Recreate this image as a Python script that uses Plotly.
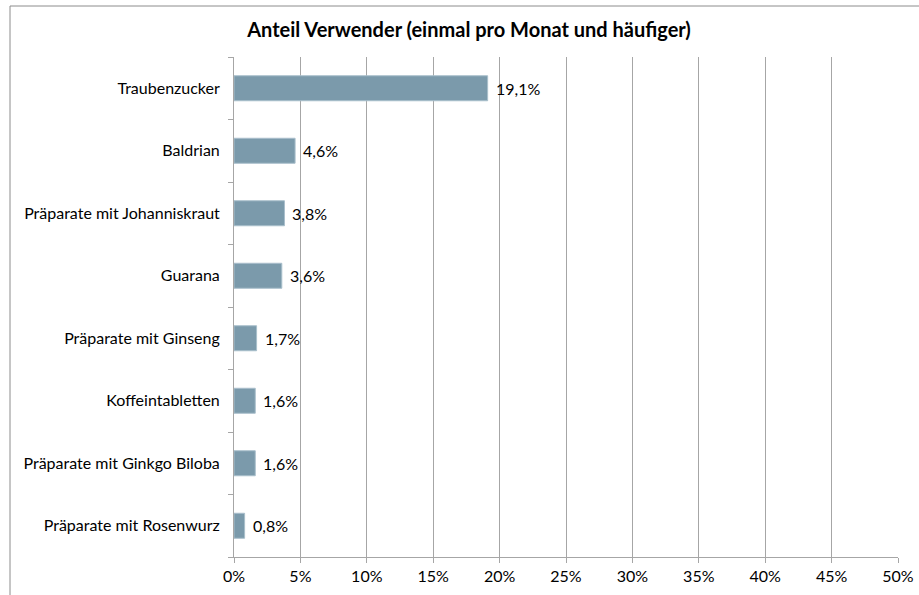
import plotly.graph_objects as go

# Anteil der Verwender je Präparat (in Prozent), von oben nach unten
categories = [
    "Traubenzucker",
    "Baldrian",
    "Präparate mit Johanniskraut",
    "Guarana",
    "Präparate mit Ginseng",
    "Koffeintabletten",
    "Präparate mit Ginkgo Biloba",
    "Präparate mit Rosenwurz",
]
values = [19.1, 4.6, 3.8, 3.6, 1.7, 1.6, 1.6, 0.8]
x_ticks = [0, 5, 10, 15, 20, 25, 30, 35, 40, 45, 50]
x_tick_labels = [f"{t}%" for t in x_ticks]

labels = [f"{v:.1f}%".replace(".", ",") for v in values]

W, H = 919, 595
m_left, m_right, m_top, m_bottom = 234, 21, 57, 38
pw = W - m_left - m_right
ph = H - m_top - m_bottom

FONT = "Lato, 'Open Sans', sans-serif"
GRID = "#a6a6a6"
TXT = "#000000"
FS = 16

fig = go.Figure(
    go.Bar(
        y=categories,
        x=values,
        orientation="h",
        marker=dict(color="#7b9aab", line=dict(color="#a9bfcb", width=1)),
        hoverinfo="skip",
    )
)

# Wertbeschriftungen rechts neben den Balken
for cat, val, lab in zip(categories, values, labels):
    fig.add_annotation(
        x=val,
        y=cat,
        text=lab,
        showarrow=False,
        xanchor="left",
        yanchor="middle",
        xshift=6,
        font=dict(family=FONT, size=FS, color=TXT),
    )

fig.update_layout(
    width=W,
    height=H,
    margin=dict(l=m_left, r=m_right, t=m_top, b=m_bottom, pad=0),
    paper_bgcolor="white",
    plot_bgcolor="white",
    bargap=0.6,
    showlegend=False,
    title=dict(
        text="<b>Anteil Verwender (einmal pro Monat und häufiger)</b>",
        x=469 / W,
        xanchor="center",
        y=1 - 30 / H,
        yanchor="middle",
        font=dict(family=FONT, size=20, color="#000000"),
    ),
    xaxis=dict(
        range=[0, 50],
        tickvals=x_ticks,
        ticktext=x_tick_labels,
        showgrid=True,
        gridcolor=GRID,
        gridwidth=1,
        zeroline=False,
        showline=True,
        linecolor=GRID,
        linewidth=1,
        ticks="outside",
        ticklen=5,
        tickcolor=GRID,
        tickfont=dict(family=FONT, size=FS, color=TXT),
        automargin=False,
        fixedrange=True,
    ),
    yaxis=dict(
        categoryorder="array",
        categoryarray=categories[::-1],
        autorange=False,
        range=[-0.5, len(categories) - 0.5],
        showgrid=False,
        zeroline=False,
        showline=True,
        linecolor=GRID,
        linewidth=1,
        ticks="outside",
        tickson="boundaries",
        ticklen=5,
        tickcolor=GRID,
        ticklabelstandoff=10,
        tickfont=dict(family=FONT, size=FS, color=TXT),
        automargin=False,
        fixedrange=True,
    ),
)

# Rahmen des Diagrammbereichs: nur obere und linke Kante liegen im Bild
x_left = (10 - m_left) / pw
y_top = (H - 6 - m_bottom) / ph
border = dict(color="#8c8c8c", width=1)
fig.add_shape(type="line", xref="paper", yref="paper",
              x0=x_left, x1=(W + 20 - m_left) / pw, y0=y_top, y1=y_top,
              line=border, layer="below")
fig.add_shape(type="line", xref="paper", yref="paper",
              x0=x_left, x1=x_left, y0=y_top, y1=-(20 + m_bottom) / ph,
              line=border, layer="below")

fig.write_html("out.html", config={"displayModeBar": False})
